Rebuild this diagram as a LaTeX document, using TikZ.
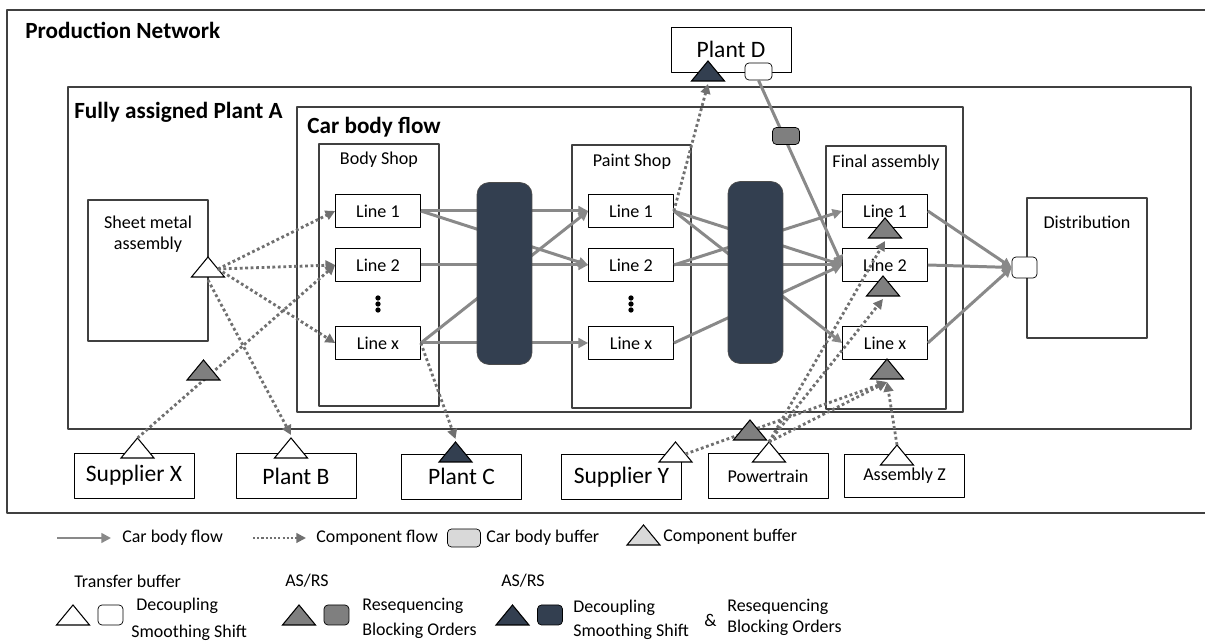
\documentclass[tikz,border=0pt]{standalone}
\usepackage{fontspec}
\setmainfont{Carlito}
\usetikzlibrary{arrows.meta}
\definecolor{flowgray}{RGB}{137,137,137}
\definecolor{compgray}{RGB}{112,112,112}
\definecolor{asrsgray}{RGB}{127,127,127}
\definecolor{asrsdark}{RGB}{51,63,80}
\definecolor{legendgray}{RGB}{217,217,217}
\definecolor{framegray}{RGB}{64,64,64}
\tikzset{
  bodyflow/.style={draw=flowgray, line width=1.7pt, -{Triangle[length=5.5pt,width=5.5pt]}},
  compflow/.style={draw=compgray, line width=1.6pt, dash pattern=on 1.6pt off 1.5pt, -{Triangle[length=5.5pt,width=5.5pt]}},
  linebox/.style={draw, fill=white, minimum width=1.7cm, minimum height=0.66cm, inner sep=0pt, font=\fontsize{10.3}{12}\selectfont},
  sitebox/.style={draw, fill=white, minimum width=2.4cm, minimum height=0.9cm, inner sep=0pt, font=\fontsize{13.4}{15}\selectfont},
  asrs/.style={draw=black!70, fill=asrsdark, rounded corners=0.24cm, minimum width=1.1cm, minimum height=3.64cm},
  carbuf/.style={draw, rounded corners=0.08cm, minimum width=0.54cm, minimum height=0.34cm, inner sep=0pt},
  title/.style={font=\bfseries\fontsize{13.2}{15}\selectfont, anchor=west, inner sep=0pt},
  txt/.style={font=\fontsize{10.3}{12}\selectfont, inner sep=0pt},
  legtxt/.style={font=\fontsize{10.2}{12}\selectfont, anchor=west, inner sep=0pt},
  pics/buftri/.style={code={
    \draw[fill=#1, line width=0.6pt, line join=miter] (-16.5,0) -- (16.5,0) -- (0,-20) -- cycle;
    \coordinate (-apex) at (0,-20);
    \coordinate (-top) at (0,-23);
    \coordinate (-foot) at (0,3);
    \coordinate (-east) at (10,-8);
  }}
}
\begin{document}
\begin{tikzpicture}[x=0.02cm, y=-0.02cm, line join=round]
\useasboundingbox (0,0) rectangle (1205,644);
% frames
\draw[framegray, line width=0.8pt] (7,10) rectangle (1215,513);
\draw[framegray, line width=0.8pt] (68,87) rectangle (1191,429);
\draw[framegray, line width=0.8pt] (297,107) rectangle (963,412);
\draw[framegray, line width=0.7pt] (319,144) rectangle (439,406);
\draw[framegray, line width=0.7pt] (572,145) rectangle (691,408);
\draw[framegray, line width=0.7pt] (826,146) rectangle (946,409);
\draw[framegray, line width=0.7pt] (1027,198) rectangle (1147,338);
\draw[framegray, line width=0.7pt] (88,200) rectangle (208,341);
\node[title] (tnet) at (25,30) {Production Network};
\node[title] (tplant) at (74,112) {Fully assigned Plant A};
\node[title] (tbody) at (307,127) {Car body flow};
\node[txt] (tbs) at (379,160) {Body Shop};
\node[txt] (tps) at (632,162) {Paint Shop};
\node[txt] (tfa) at (886,163) {Final assembly};
\node[txt] (tdis) at (1087,222) {Distribution};
\node[txt, align=center] (tsma) at (148,234) {Sheet metal\\assembly};
% lines of the shops
\foreach \s/\x in {bs/378,ps/631,fa/885}{
  \node[linebox] (\s1) at (\x,211) {Line 1};
  \node[linebox] (\s2) at (\x,265) {Line 2};
  \node[linebox] (\s x) at (\x,343) {Line x};
}
\foreach \x in {378,631} \foreach \y in {298,304,310} \fill (\x,\y) circle[radius=1.5pt];
% car body flow
\foreach \a/\b in {bs1/ps1,bs1/ps2,bs2/ps2,bsx/ps1,bsx/psx,ps1/fa2,ps1/fax,ps2/fa1,ps2/fa2,psx/fa2}
  \draw[bodyflow] (\a.east) -- (\b.west);
\node[carbuf, fill=white, minimum width=0.5cm, minimum height=0.42cm] (dbuf) at (1024.5,267.5) {};
\foreach \a in {fa1,fa2,fax} \draw[bodyflow] (\a.east) -- (dbuf.west);
\node[asrs] (asrs1) at (504.5,273.5) {};
\node[asrs] (asrs2) at (755.5,272.5) {};
% sites outside plant A
\node[sitebox] (plantD) at (731,49.5) {Plant D};
\node[carbuf, fill=white] (pdbuf) at (758.5,71.5) {};
\draw[bodyflow] (pdbuf.south) -- (fa2.west);
\node[carbuf, fill=asrsgray] (gbuf) at (786,136) {};
\node[sitebox] (supX) at (134,475.5) {Supplier X};
\node[sitebox] (plantB) at (296,476) {Plant B};
\node[sitebox] (plantC) at (461.5,476.5) {Plant C};
\node[sitebox] (supY) at (621.5,477) {Supplier Y};
\node[sitebox, font=\fontsize{10.3}{12}\selectfont] (ptrain) at (768,476) {Powertrain};
\node[sitebox, font=\fontsize{10.3}{12}\selectfont, minimum height=0.86cm] (asmZ) at (904.5,475.5) {Assembly Z};
% component buffers
\pic (smt) at (208,277) {buftri=white};
\pic (plantBtri) at (291,458) {buftri=white};
\pic (supXtri) at (137.5,458) {buftri=white};
\pic (plantCtri) at (455.5,462) {buftri=asrsdark};
\pic (plantDtri) at (708,81) {buftri=asrsdark};
\pic (supYtri) at (675.5,462) {buftri=white};
\pic (ptraintri) at (769,462) {buftri=white};
\pic (asmZtri) at (897,465) {buftri=white};
\pic (fa1tri) at (885,238) {buftri=asrsgray};
\pic (fa2tri) at (883,296) {buftri=asrsgray};
\pic (faxtri) at (887,379) {buftri=asrsgray};
% component flow
\foreach \b in {bs1,bs2,bsx} \draw[compflow] (smt-east) -- (\b.west);
\draw[compflow] (smt-foot) -- (plantBtri-top);
\draw[compflow] (supXtri-apex) -- (bs2.west);
\draw[compflow] (bsx.east) -- (plantCtri-top);
\draw[compflow] (ps1.east) -- (plantDtri-foot);
\draw[compflow] (supYtri-east) -- (faxtri-foot);
\foreach \b in {fa1tri,fa2tri,faxtri} \draw[compflow] (ptraintri-apex) -- (\b-foot);
\draw[compflow] (asmZtri-apex) -- (faxtri-foot);
\pic (gxtri) at (203.5,380) {buftri=asrsgray};
\pic (gytri) at (750,440) {buftri=asrsgray};
% legend
\coordinate (lgA) at (57,538); \coordinate (lgB) at (111,538);
\draw[bodyflow] (lgA) -- (lgB);
\node[legtxt] (lg1) at (122,538) {Car body flow};
\coordinate (lgC) at (253,538); \coordinate (lgD) at (306,538);
\draw[compflow, line width=1.2pt, dash pattern=on 1.2pt off 1.2pt] (lgC) -- (lgD);
\node[legtxt] (lg2) at (316,538) {Component flow};
\node[carbuf, fill=legendgray, minimum width=0.66cm, minimum height=0.36cm] (lgbuf) at (464,538) {};
\node[legtxt] (lg3) at (486,538) {Car body buffer};
\pic (lgtri) at (643.5,545) {buftri=legendgray};
\node[legtxt] (lg4) at (663,537) {Component buffer};
\node[legtxt] (lg5) at (74,581) {Transfer buffer};
\node[legtxt] (lg6) at (285,581) {AS/RS};
\node[legtxt] (lg7) at (501,581) {AS/RS};
\pic (lgt1) at (73,625) {buftri=white};
\node[carbuf, fill=white, minimum width=0.5cm, minimum height=0.4cm] (lgb1) at (110.5,615) {};
\node[legtxt] (lg8) at (136,606) {Decoupling};
\node[legtxt] (lg9) at (131,633) {Smoothing Shift};
\pic (lgt2) at (299,625) {buftri=asrsgray};
\node[carbuf, fill=asrsgray, minimum width=0.5cm, minimum height=0.4cm] (lgb2) at (336.5,615) {};
\node[legtxt] (lg10) at (362,606) {Resequencing};
\node[legtxt] (lg11) at (362,631) {Blocking Orders};
\pic (lgt3) at (512.5,625) {buftri=asrsdark};
\node[carbuf, fill=asrsdark, minimum width=0.5cm, minimum height=0.4cm] (lgb3) at (550,615) {};
\node[legtxt] (lg12) at (573,608) {Decoupling};
\node[legtxt] (lg13) at (573,632) {Smoothing Shift};
\node[legtxt] (lg14) at (704,620) {\&};
\node[legtxt] (lg15) at (727,607) {Resequencing};
\node[legtxt] (lg16) at (727,628) {Blocking Orders};
\end{tikzpicture}
\end{document}
